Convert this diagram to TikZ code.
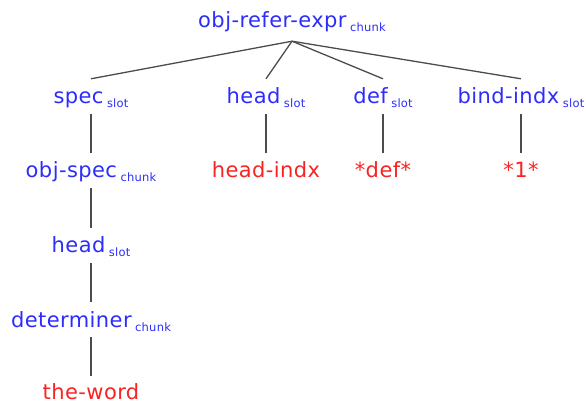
\documentclass[tikz,border=0pt]{standalone}
\usepackage{fontspec}
\setmainfont{DejaVu Sans}[LetterSpace=2]
\usepackage{xcolor}
\usepackage{tikz}
\definecolor{slotblue}{RGB}{45,45,250}
\definecolor{fillred}{RGB}{250,35,35}
\newcommand{\sublbl}[2]{#1\hspace{3.5pt}\raisebox{-4pt}{\fontsize{11.5}{12}\selectfont #2}}

\begin{document}
\begin{tikzpicture}[x=1pt,y=-1pt,
  lbl/.style={anchor=base,inner xsep=0pt,inner ysep=5pt,text height=20pt,text depth=5pt,font=\fontsize{21}{24}\selectfont},
  slt/.style={lbl,text=slotblue},
  val/.style={lbl,text=fillred},
  branch/.style={draw=black!70,line width=1.3pt}]
\useasboundingbox (0,0) rectangle (586,403);
\node (1) at (292,28) [slt,inner ysep=0pt,text depth=13pt] {\sublbl{obj-refer-expr}{chunk}};
\node (2) at ( 91,104) [slt] {\sublbl{spec}{slot}};
\node (3) at (266,104) [slt] {\sublbl{head}{slot}};
\node (4) at (383,104) [slt] {\sublbl{def}{slot}};
\node (5) at (521,104) [slt] {\sublbl{bind-indx}{slot}};
\node (6) at ( 91,178) [slt] {\sublbl{obj-spec}{chunk}};
\node (7) at (266,178) [val] {head-indx};
\node (8) at (383,178) [val] {*def*};
\node (9) at (521,178) [val] {*1*};
\node (10) at ( 91,253) [slt] {\sublbl{head}{slot}};
\node (11) at ( 91,327) [slt] {\sublbl{determiner}{chunk}};
\node (12) at ( 91,399) [val,text depth=0pt,inner ysep=3pt] {the-word};
\draw[branch] (1.south) -- (2.north);
\draw[branch] (1.south) -- (3.north);
\draw[branch] (1.south) -- (4.north);
\draw[branch] (1.south) -- (5.north);
\draw[branch] (2.south) -- (6.north);
\draw[branch] (3.south) -- (7.north);
\draw[branch] (4.south) -- (8.north);
\draw[branch] (5.south) -- (9.north);
\draw[branch] (6.south) -- (10.north);
\draw[branch] (10.south) -- (11.north);
\draw[branch] (11.south) -- (12.north);
\end{tikzpicture}
\end{document}
